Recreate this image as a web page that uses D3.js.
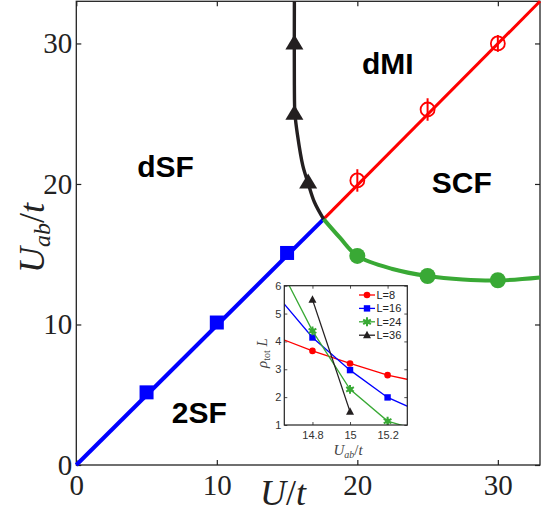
<!DOCTYPE html>
<html><head><meta charset="utf-8">
<script src="https://cdn.jsdelivr.net/npm/d3@7"></script>
<style>body{margin:0;background:#fff}</style>
</head><body>
<svg id="c" width="545" height="515"></svg>
<script>
// ---------- data (main phase diagram) ----------
const xTicks = [0, 10, 20, 30];
const yTicks = [0, 10, 20, 30];
const blueU = [5, 10, 15];
const blueUab = [5.17, 10.14, 15.09];
const blueLine = [[0, 0], [17.6, 17.5]];
const blackU = [15.52, 15.52, 16.5];
const blackUab = [30, 25, 20.1];
const blackCurve = [[15.52, 33], [15.52, 27], [15.56, 25], [15.74, 23.5], [16.12, 21.3], [16.5, 20.05], [16.95, 18.7], [17.6, 17.5]];
const redU = [20, 25, 30];
const redUab = [20.25, 25.3, 30.0];
const redErr = [0.8, 0.8, 0.6];
const redLine = [[17.6, 17.5], [33, 33]];
const greenU = [20, 25, 30];
const greenUab = [14.88, 13.45, 13.15];
const greenCurve = [[17.6, 17.5], [18.76, 16.18], [20, 14.88], [22.5, 13.95], [25, 13.45], [27.5, 13.2], [30, 13.13], [33, 13.35]];
const regionNames = ["dMI", "dSF", "SCF", "2SF"];
const regionU = [20.33, 4.34, 25.3, 6.79];
const regionUab = [27.83, 20.52, 19.34, 2.97];

// ---------- data (inset) ----------
const insetXTicks = [14.8, 15, 15.2];
const insetYTicks = [1, 2, 3, 4, 5, 6];
const insetLabels = ["L=8", "L=16", "L=24", "L=36"];
const insetX = [[14.6, 14.8, 15, 15.2, 15.4], [14.6, 14.8, 15, 15.2, 15.4], [14.6, 14.8, 15, 15.2, 15.4], [14.8, 15]];
const insetY = [[4.18, 3.66, 3.21, 2.79, 2.5], [5.74, 4.14, 2.97, 1.99, 1.39], [7.0, 4.38, 2.28, 1.14, 0.74], [5.5, 1.48]];

const svg = d3.select("#c");
const BLUE = "#0000ff", RED = "#ff0000", GREEN = "#39a935", BLACK = "#231f20";

const x = d3.scaleLinear().domain([0, 33]).range([76.3, 540]);
const y = d3.scaleLinear().domain([0, 33]).range([465, 1.3]);

// axes (ticks inward on all four sides)
const serif = "'Liberation Serif','DejaVu Serif',serif";
function styleAxis(g) {
  g.select(".domain").remove();
  g.selectAll(".tick line").attr("stroke", "#222").attr("stroke-width", 1.2);
  g.selectAll("text").attr("font-family", serif).attr("font-size", 29).attr("fill", "#222");
}
svg.append("g").attr("transform", `translate(0,465)`)
  .call(d3.axisBottom(x).tickValues(xTicks).tickSizeInner(-5).tickSizeOuter(0).tickPadding(9))
  .call(styleAxis);
svg.append("g").attr("transform", `translate(0,${y(33)})`)
  .call(d3.axisTop(x).tickValues(xTicks).tickSizeInner(-5).tickSizeOuter(0).tickFormat(""))
  .call(styleAxis);
svg.append("g").attr("transform", `translate(${x(0)},0)`)
  .call(d3.axisLeft(y).tickValues(yTicks).tickSizeInner(-5).tickSizeOuter(0).tickPadding(4))
  .call(styleAxis);
svg.append("g").attr("transform", `translate(${x(33)},0)`)
  .call(d3.axisRight(y).tickValues(yTicks).tickSizeInner(-5).tickSizeOuter(0).tickFormat(""))
  .call(styleAxis);
svg.append("rect").attr("x", x(0)).attr("y", y(33)).attr("width", x(33) - x(0)).attr("height", y(0) - y(33))
  .attr("fill", "none").attr("stroke", "#222").attr("stroke-width", 1.3);

// axis titles
const xl = svg.append("text").attr("x", 283).attr("y", 505).attr("text-anchor", "middle")
  .attr("font-family", serif).attr("font-size", 36).attr("fill", "#222");
xl.append("tspan").attr("font-style", "italic").text("U");
xl.append("tspan").text("/");
xl.append("tspan").attr("font-style", "italic").text("t");

const yl = svg.append("text").attr("transform", "translate(44,238) rotate(-90)").attr("text-anchor", "middle")
  .attr("font-family", serif).attr("font-size", 36).attr("fill", "#222");
yl.append("tspan").attr("font-style", "italic").text("U");
yl.append("tspan").attr("font-style", "italic").attr("font-size", 24).attr("dy", 6).text("ab");
yl.append("tspan").attr("dy", -6).text("/");
yl.append("tspan").attr("font-style", "italic").text("t");

// phase boundaries
const line = d3.line().x(d => x(d[0])).y(d => y(d[1]));
const curve = d3.line().x(d => x(d[0])).y(d => y(d[1])).curve(d3.curveCatmullRom.alpha(0.5));
svg.append("path").attr("d", line(blueLine)).attr("fill", "none").attr("stroke", BLUE).attr("stroke-width", 4);
svg.append("path").attr("d", line(redLine)).attr("fill", "none").attr("stroke", RED).attr("stroke-width", 3);
svg.append("path").attr("d", curve(greenCurve)).attr("fill", "none").attr("stroke", GREEN).attr("stroke-width", 4);
svg.append("path").attr("d", curve(blackCurve)).attr("fill", "none").attr("stroke", BLACK).attr("stroke-width", 3.4);

// markers
svg.selectAll(".bsq").data(blueU).join("rect")
  .attr("x", (d, i) => x(d) - 7).attr("y", (d, i) => y(blueUab[i]) - 7)
  .attr("width", 14).attr("height", 14).attr("fill", BLUE);
svg.selectAll(".gci").data(greenU).join("circle")
  .attr("cx", d => x(d)).attr("cy", (d, i) => y(greenUab[i])).attr("r", 8).attr("fill", GREEN);
svg.selectAll(".ktr").data(blackU).join("path")
  .attr("d", (d, i) => {
    const cx = x(d), cy = y(blackUab[i]);
    return `M${cx},${cy - 9}L${cx + 9},${cy + 6}L${cx - 9},${cy + 6}Z`;
  }).attr("fill", BLACK);
svg.selectAll(".rerr").data(redU).join("line")
  .attr("x1", d => x(d)).attr("x2", d => x(d))
  .attr("y1", (d, i) => y(redUab[i] + redErr[i])).attr("y2", (d, i) => y(redUab[i] - redErr[i]))
  .attr("stroke", RED).attr("stroke-width", 2);
svg.selectAll(".rci").data(redU).join("circle")
  .attr("cx", d => x(d)).attr("cy", (d, i) => y(redUab[i])).attr("r", 7)
  .attr("fill", "none").attr("stroke", RED).attr("stroke-width", 1.8);

// region labels
svg.selectAll(".reg").data(regionNames).join("text")
  .attr("x", (d, i) => x(regionU[i])).attr("y", (d, i) => y(regionUab[i]))
  .attr("font-family", "'Liberation Sans',Arial,sans-serif").attr("font-weight", "bold")
  .attr("font-size", 30).attr("fill", "#000").text(d => d);

// ---------- inset ----------
const xi = d3.scaleLinear().domain([14.65, 15.305]).range([284.3, 407.3]);
const yi = d3.scaleLinear().domain([1, 6]).range([425, 285.7]);
const sans = "'Liberation Sans',Arial,sans-serif";
svg.append("rect").attr("x", xi.range()[0]).attr("y", yi.range()[1])
  .attr("width", xi.range()[1] - xi.range()[0]).attr("height", yi.range()[0] - yi.range()[1]).attr("fill", "#fff");
svg.append("clipPath").attr("id", "ic").append("rect")
  .attr("x", xi.range()[0]).attr("y", yi.range()[1])
  .attr("width", xi.range()[1] - xi.range()[0]).attr("height", yi.range()[0] - yi.range()[1]);

function styleInset(g) {
  g.select(".domain").remove();
  g.selectAll(".tick line").attr("stroke", "#222").attr("stroke-width", 0.8);
  g.selectAll("text").attr("font-family", sans).attr("font-size", 11).attr("fill", "#333");
}
svg.append("g").attr("transform", `translate(0,${yi(1)})`)
  .call(d3.axisBottom(xi).tickValues(insetXTicks).tickFormat(d3.format("~g")).tickSizeInner(-3).tickSizeOuter(0).tickPadding(6))
  .call(styleInset);
svg.append("g").attr("transform", `translate(0,${yi(6)})`)
  .call(d3.axisTop(xi).tickValues(insetXTicks).tickSizeInner(-3).tickSizeOuter(0).tickFormat(""))
  .call(styleInset);
svg.append("g").attr("transform", `translate(${xi.range()[0]},0)`)
  .call(d3.axisLeft(yi).tickValues(insetYTicks).tickFormat(d3.format("d")).tickSizeInner(-3).tickSizeOuter(0).tickPadding(3))
  .call(styleInset);
svg.append("g").attr("transform", `translate(${xi.range()[1]},0)`)
  .call(d3.axisRight(yi).tickValues(insetYTicks).tickSizeInner(-3).tickSizeOuter(0).tickFormat(""))
  .call(styleInset);

const insetColors = [RED, BLUE, GREEN, BLACK];
const ig = svg.append("g").attr("clip-path", "url(#ic)");
const il = d3.line().x(d => xi(d[0])).y(d => yi(d[1]));
function marker(g, k, cx, cy) {
  const c = insetColors[k];
  if (k === 0) g.append("circle").attr("cx", cx).attr("cy", cy).attr("r", 3.3).attr("fill", c);
  else if (k === 1) g.append("rect").attr("x", cx - 3.2).attr("y", cy - 3.2).attr("width", 6.4).attr("height", 6.4).attr("fill", c);
  else if (k === 2) {
    g.append("path").attr("transform", `translate(${cx},${cy})`).attr("d", d3.symbol(d3.symbolAsterisk, 55)())
      .attr("stroke", c).attr("stroke-width", 2).attr("fill", "none");
    g.append("circle").attr("cx", cx).attr("cy", cy).attr("r", 2.6).attr("fill", c);
  } else g.append("path").attr("d", `M${cx},${cy - 4.5}L${cx + 4},${cy + 3}L${cx - 4},${cy + 3}Z`).attr("fill", c);
}
insetX.forEach((xs, k) => {
  const pts = xs.map((v, j) => [v, insetY[k][j]]);
  ig.append("path").attr("d", il(pts)).attr("fill", "none").attr("stroke", insetColors[k]).attr("stroke-width", 1.3);
  pts.forEach(p => marker(ig, k, xi(p[0]), yi(p[1])));
});
svg.append("rect").attr("x", xi.range()[0]).attr("y", yi.range()[1])
  .attr("width", xi.range()[1] - xi.range()[0]).attr("height", yi.range()[0] - yi.range()[1])
  .attr("fill", "none").attr("stroke", "#222").attr("stroke-width", 1.2);

// inset legend
insetLabels.forEach((lab, k) => {
  const ly = 295 + k * 13.4;
  svg.append("line").attr("x1", 359).attr("x2", 375).attr("y1", ly).attr("y2", ly)
    .attr("stroke", insetColors[k]).attr("stroke-width", 1.3);
  marker(svg, k, 367, ly);
  svg.append("text").attr("x", 376.5).attr("y", ly).attr("dy", "0.36em")
    .attr("font-family", sans).attr("font-size", 11).attr("fill", "#222").text(lab);
});

// inset titles
const ixl = svg.append("text").attr("x", 348).attr("y", 455).attr("text-anchor", "middle")
  .attr("font-family", serif).attr("font-size", 15).attr("fill", "#444");
ixl.append("tspan").attr("font-style", "italic").text("U");
ixl.append("tspan").attr("font-style", "italic").attr("font-size", 10).attr("dy", 3).text("ab");
ixl.append("tspan").attr("dy", -3).text("/");
ixl.append("tspan").attr("font-style", "italic").text("t");

const iyl = svg.append("text").attr("transform", "translate(267,353) rotate(-90)").attr("text-anchor", "middle")
  .attr("font-family", serif).attr("font-size", 15).attr("fill", "#444");
iyl.append("tspan").attr("font-style", "italic").text("ρ");
iyl.append("tspan").attr("font-size", 10).attr("dy", 3).text("tot");
iyl.append("tspan").attr("dy", -3).attr("font-style", "italic").text(" L");
</script>
</body></html>
